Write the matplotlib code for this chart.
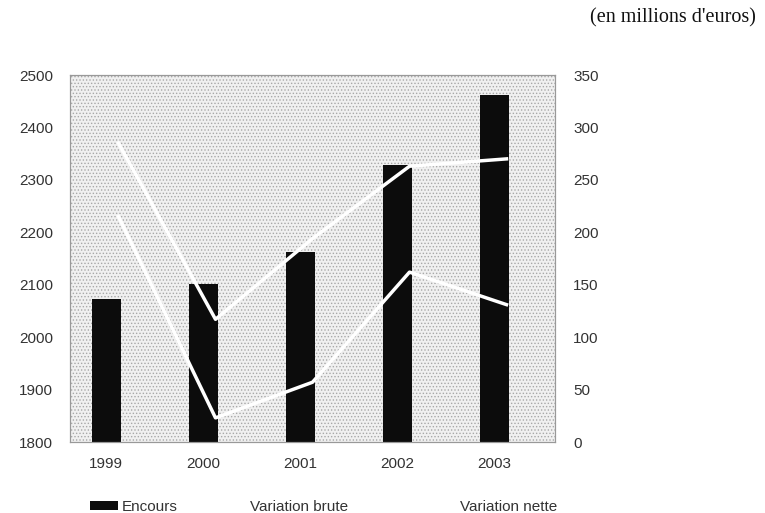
import matplotlib
matplotlib.use("Agg")
import matplotlib.pyplot as plt
from matplotlib.patches import Patch
from matplotlib.lines import Line2D
import numpy as np

plt.rcParams['font.family'] = ['Liberation Sans', 'DejaVu Sans']
plt.rcParams['hatch.linewidth'] = 0.6

years = ['1999', '2000', '2001', '2002', '2003']
encours = [2073, 2101, 2163, 2329, 2462]
variation_brute = [285, 117, 194, 263, 270]
variation_nette = [215, 23, 57, 162, 131]

x = np.arange(len(years))
bar_shift = -0.125

fig = plt.figure(figsize=(7.65, 5.13), dpi=100)
ax = fig.add_axes([0.0915, 0.1384, 0.634, 0.7154])

# fond gris pointillé
ax.set_facecolor('#f0f0f0')
ax.patch.set_hatch('.....')
ax.patch.set_edgecolor('#a8a8a8')
ax.patch.set_linewidth(0)

ax.bar(x + bar_shift, encours, width=0.3, color='#0c0c0c', zorder=2)
ax.set_ylim(1800, 2500)
ax.set_xlim(-0.5, 4.5)
ax.set_yticks(range(1800, 2501, 100))
ax.set_xticks(x + bar_shift)
ax.set_xticklabels(years)

ax2 = ax.twinx()
ax2.plot(x, variation_brute, color='white', lw=2.5, zorder=3)
ax2.plot(x, variation_nette, color='white', lw=2.5, zorder=3)
ax2.set_ylim(0, 350)
ax2.set_yticks(range(0, 351, 50))

for a in (ax, ax2):
    a.tick_params(length=0, labelsize=11, colors='#333333')
    for s in a.spines.values():
        s.set_color('#999999')
        s.set_linewidth(0.8)
ax.tick_params(axis='y', pad=12)
ax.tick_params(axis='x', pad=11)
ax2.tick_params(axis='y', pad=13)

fig.text(0.988, 0.965, "(en millions d'euros)", family=['Liberation Serif', 'DejaVu Serif'],
         fontsize=14.5, ha='right', va='center', color='#111111')

# légende en deux morceaux pour l'espacement irrégulier
leg_opts = dict(loc='center left', frameon=False, fontsize=11, handlelength=1.8,
                handleheight=0.5, handletextpad=0.3, borderpad=0, borderaxespad=0,
                labelcolor='#333333')
leg1 = fig.legend([Patch(facecolor='#0c0c0c', edgecolor='none')], ['Encours'],
                  bbox_to_anchor=(90 / 765, 0.012), **leg_opts)
fig.legend([Line2D([], [], color='white', lw=2.5), Line2D([], [], color='white', lw=2.5)],
           ['Variation brute', 'Variation nette'], ncol=2, columnspacing=5.2,
           bbox_to_anchor=(218 / 765, 0.012), **leg_opts)

fig.savefig('out.png', dpi=100)
